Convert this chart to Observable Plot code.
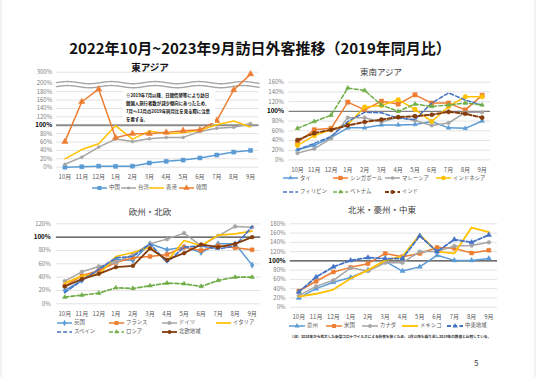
<!DOCTYPE html>
<html><head><meta charset="utf-8">
<script src="https://cdn.jsdelivr.net/npm/d3@7"></script>
<script src="https://cdn.jsdelivr.net/npm/@observablehq/plot@0.6"></script>
<style>
body{margin:0;background:#fff;font-family:"Noto Sans CJK JP","Noto Sans",sans-serif;}
#page{position:relative;width:536px;height:377px;overflow:hidden;background:#fff;}
.abs{position:absolute;white-space:nowrap;}
.pl{position:absolute;}
.pl svg{overflow:visible;}
</style></head>
<body><div id="page"></div>
<script>
// ---------- data ----------
const months = ["10月","11月","12月","1月","2月","3月","4月","5月","6月","7月","8月","9月"];

// 東アジア (%)
const eaNames = ["中国","台湾","香港","韓国"];
const china    = [0, 1, 2.5, 2, 2.5, 10, 14, 17, 22, 29, 36, 40];
const taiwan   = [7, 24, 48, 67, 61, 68, 71, 71, 85, 93, 95, 104];
const hongkong = [20, 42, 56, 99, 67, 86, 80, 82, 88, 101, 110, 96];
const korea    = [61, 156, 186, 70, 80, 80, 83, 87, 89, 111, 184, 283];
const eaTicks  = [0,20,40,60,80,100,120,140,160,180,200,300];

// 東南アジア
const seaNames   = ["タイ","シンガポール","マレーシア","インドネシア","フィリピン","ベトナム","インド"];
const thai       = [21, 30, 46, 66, 66, 72, 72, 73, 79, 66, 65, 80];
const singapore  = [36, 62, 65, 119, 103, 121, 115, 134, 117, 117, 103, 133];
const malaysia   = [14, 23, 44, 87, 87, 78, 88, 81, 71, 76, 98, 98];
const indonesia  = [30, 50, 62, 73, 109, 112, 124, 104, 79, 110, 130, 130];
const philippines= [21, 34, 48, 79, 98, 97, 86, 83, 117, 138, 123, 113];
const vietnam    = [65, 79, 92, 148, 143, 113, 100, 115, 110, 113, 117, 113];
const india      = [41, 55, 62, 71, 78, 83, 88, 90, 93, 99, 95, 87];
const seaTicks   = [0,20,40,60,80,100,120,140,160];

// 欧州・北欧
const euNames = ["英国","フランス","ドイツ","イタリア","スペイン","ロシア","北欧地域"];
const uk      = [20, 35, 50, 67, 65, 90, 81, 85, 77, 90, 90, 58];
const france  = [27, 42, 50, 62, 69, 71, 74, 85, 80, 87, 84, 81];
const germany = [34, 48, 56, 62, 74, 90, 97, 106, 87, 102, 116, 115];
const italy   = [31, 42, 44, 71, 77, 85, 64, 95, 87, 103, 105, 109];
const spain   = [17, 35, 52, 69, 71, 90, 62, 85, 87, 82, 87, 116];
const russia  = [10, 13, 16, 24, 23, 27, 31, 30, 26, 35, 40, 40];
const nordic  = [26, 37, 45, 55, 57, 83, 66, 76, 89, 85, 90, 100];
const euTicks = [0,20,40,60,80,100,120];

// 北米・豪州・中東
const naNames    = ["豪州","米国","カナダ","メキシコ","中東地域"];
const australia  = [20, 40, 54, 64, 80, 99, 78, 87, 112, 101, 101, 105];
const usa        = [35, 56, 76, 86, 94, 116, 109, 116, 129, 127, 117, 123];
const canada     = [25, 45, 58, 85, 78, 96, 96, 120, 120, 132, 133, 140];
const mexico     = [23, 29, 38, 62, 80, 101, 110, 156, 120, 116, 172, 162];
const middleEast = [33, 65, 87, 101, 107, 105, 105, 154, 120, 146, 140, 156];
const naTicks    = [0,20,40,60,80,100,120,140,160,180];

const titleText = "2022年10月~2023年9月訪日外客推移（2019年同月比）";
const panelTitles = ["東アジア","東南アジア","欧州・北欧","北米・豪州・中東"];
const noteLines = ["※2019年7月以降、日韓情勢等により訪日","韓国人旅行者数が減少傾向にあったため、","7月～12月の2019年同月比を見る際に注意","を要する。"];
const footnote = "（注）2020年から拡大した新型コロナウイルスによる影響を除くため、1月以降も繰り返し2019年の数値と比較している。";
const pageNo = "5";

// ---------- styles ----------
const C = {blue:"#5B9BD5", orange:"#ED7D31", gray:"#A5A5A5", yellow:"#FFC000", dblue:"#4472C4", green:"#70AD47", brown:"#843C0C"};
const DASH = "4,2.2";

const page = document.getElementById("page");
function addText(txt, left, cy, opts = {}) {
  const d = document.createElement("div");
  d.className = "abs";
  const fs = opts.fs || 6, lh = fs * 1.4;
  d.style.cssText += `left:${left}px;top:${cy - lh/2}px;font-size:${fs}px;line-height:${lh}px;color:${opts.color||"#595959"};font-weight:${opts.bold?"bold":"normal"};`;
  if (opts.width) { d.style.width = opts.width + "px"; d.style.textAlign = "center"; }
  d.textContent = txt;
  page.appendChild(d);
  return d;
}

function makePanel(cfg) {
  const tf = cfg.tf || (v => v);
  const ticksD = cfg.ticks.map(tf);
  const labelOf = new Map(cfg.ticks.map(t => [tf(t), t + "%"]));
  const gridT = cfg.ticks.filter(t => t !== 100 && !(cfg.noGrid || []).includes(t)).map(tf);
  const marks = [
    Plot.ruleY(gridT, {stroke:"#D9D9D9", strokeWidth:0.75}),
    ...(cfg.extra || []),
    Plot.ruleY([tf(100)], {stroke:cfg.refColor, strokeWidth:cfg.refWidth}),
    Plot.axisX(d3.range(12), {tickSize:0, tickPadding:8, tickFormat:i => months[i], fontSize:6, fill:"#595959"}),
    Plot.axisY(ticksD.filter(d => d !== tf(100)), {tickSize:0, tickPadding:cfg.yPad, tickFormat:d => labelOf.get(d), fontSize:6, fill:"#808080", color:"#808080"}),
    Plot.axisY([tf(100)], {tickSize:0, tickPadding:cfg.yPad, tickFormat:() => "100%", fontSize:6.2, fill:"#000", fontWeight:"bold"})
  ];
  for (const s of cfg.series) {
    const pts = s.values.map((v, i) => ({i, v: tf(v)}));
    marks.push(Plot.line(pts, {x:"i", y:"v", stroke:s.color, strokeWidth:s.w || 1.5, strokeDasharray:s.dash}));
    if (s.symbol) marks.push(Plot.dot(pts, {x:"i", y:"v", symbol:s.symbol, r:s.r || 2, fill:s.color, stroke:s.color, strokeWidth:0.5}));
  }
  const svg = Plot.plot({
    width:cfg.w, height:cfg.h,
    marginLeft:cfg.mL, marginRight:cfg.mR, marginTop:cfg.mT, marginBottom:cfg.mB,
    x:{domain:[-0.5, 11.5], label:null},
    y:{domain:cfg.yDomain, label:null},
    style:{fontFamily:"'Noto Sans CJK JP', sans-serif", fontSize:"6px", background:"transparent", overflow:"visible"},
    marks
  });
  const wrap = document.createElement("div");
  wrap.className = "pl";
  wrap.style.left = cfg.left + "px";
  wrap.style.top = cfg.top + "px";
  wrap.appendChild(svg);
  page.appendChild(wrap);
}

function legend(items, series) {
  items.forEach((it, k) => {
    const s = series[k];
    const w = it.sw || 15;
    const ns = "http://www.w3.org/2000/svg";
    const svg = document.createElementNS(ns, "svg");
    svg.setAttribute("width", w); svg.setAttribute("height", 8);
    svg.style.cssText = `position:absolute;left:${it.x}px;top:${it.y - 4}px;overflow:visible`;
    const ln = document.createElementNS(ns, "line");
    ln.setAttribute("x1", 0); ln.setAttribute("x2", w); ln.setAttribute("y1", 4); ln.setAttribute("y2", 4);
    ln.setAttribute("stroke", s.color); ln.setAttribute("stroke-width", s.w || 1.5);
    if (s.dash) ln.setAttribute("stroke-dasharray", s.dash);
    svg.appendChild(ln);
    if (s.symbol) {
      const sym = {circle:d3.symbolCircle, square:d3.symbolSquare, triangle:d3.symbolTriangle, diamond:d3.symbolDiamond}[s.symbol];
      const p = document.createElementNS(ns, "path");
      const r = s.r || 2;
      p.setAttribute("d", d3.symbol(sym, Math.PI * r * r)());
      p.setAttribute("transform", `translate(${w/2},4)`);
      p.setAttribute("fill", s.color);
      svg.appendChild(p);
    }
    page.appendChild(svg);
    addText(s.name, it.x + w + 2, it.y, {fs:5.4, color:"#595959"});
  });
}

// ---------- title ----------
addText(titleText, 0, 47, {fs:15, bold:true, color:"#111", width:520});

// ---------- panel 1: 東アジア (broken axis above 200%) ----------
const brk = v => v <= 200 ? v : 200 + (v - 200) * 0.264;
const eaSeries = [
  {name:eaNames[0], values:china, color:C.blue, symbol:"square", r:2.3},
  {name:eaNames[1], values:taiwan, color:C.gray, symbol:"circle", r:1.5},
  {name:eaNames[2], values:hongkong, color:C.yellow},
  {name:eaNames[3], values:korea, color:C.orange, symbol:"triangle", r:2.3}
];
const waveX = d3.range(0, 241).map(k => -0.5 + k * 0.05);
const waveTop = waveX.map(x => ({x, y: 201.5 + 2.6 * Math.sin(2 * Math.PI * (x + 0.5) / 2.6)}));
const waveBot = waveX.map(x => ({x, y: 192 + 2.6 * Math.sin(2 * Math.PI * (x + 0.5) / 2.6)}));
makePanel({
  left:0, top:55, w:268, h:130, mL:56, mR:9.5, mT:16.7, mB:18.3,
  yDomain:[0, brk(300)], ticks:eaTicks, tf:brk, noGrid:[200], yPad:4.3,
  refColor:"#8C8C8C", refWidth:2,
  extra:[
    Plot.line(waveTop, {x:"x", y:"y", stroke:"#A6A6A6", strokeWidth:1.4}),
    Plot.line(waveBot, {x:"x", y:"y", stroke:"#A6A6A6", strokeWidth:1.4})
  ],
  series:eaSeries
});
// note box
{
  const box = document.createElement("div");
  box.className = "abs";
  box.style.cssText += "left:123px;top:89px;width:92px;height:34px;background:#fff;";
  page.appendChild(box);
  const ys = [95, 103.3, 111.5, 119.3];
  noteLines.forEach((t, i) => addText(t, 126, ys[i], {fs:4.4, bold:true, color:"#111"}));
}
addText(panelTitles[0], 110, 68, {fs:9.5, bold:true, color:"#111", width:80});
legend([{x:92,y:187.5},{x:121,y:187.5},{x:149,y:187.5},{x:179,y:187.5}], eaSeries);

// ---------- panel 2: 東南アジア ----------
const seaSeries = [
  {name:seaNames[0], values:thai, color:C.blue, symbol:"triangle", r:1.7},
  {name:seaNames[1], values:singapore, color:C.orange, symbol:"square", r:2.4},
  {name:seaNames[2], values:malaysia, color:C.gray, symbol:"circle", r:1.8},
  {name:seaNames[3], values:indonesia, color:C.yellow, symbol:"circle", r:2.3},
  {name:seaNames[4], values:philippines, color:C.dblue, dash:DASH},
  {name:seaNames[5], values:vietnam, color:C.green, dash:DASH, symbol:"triangle", r:1.7},
  {name:seaNames[6], values:india, color:C.brown, dash:DASH, w:2, symbol:"circle", r:2.1}
];
makePanel({
  left:250, top:55, w:286, h:130, mL:38.6, mR:46, mT:26.7, mB:25.6,
  yDomain:[0,160], ticks:seaTicks, yPad:5.2, refColor:"#7F7F7F", refWidth:1.3,
  series:seaSeries
});
addText(panelTitles[1], 340, 72.3, {fs:8.5, color:"#404040", width:82});
legend([{x:283,y:178.3},{x:333,y:178.3},{x:385,y:178.3},{x:436,y:178.3},
        {x:283,y:191.7},{x:333,y:191.7},{x:385,y:191.7}], seaSeries);

// ---------- panel 3: 欧州・北欧 ----------
const euSeries = [
  {name:euNames[0], values:uk, color:C.blue, symbol:"diamond", r:1.9},
  {name:euNames[1], values:france, color:C.orange, symbol:"square", r:2.2},
  {name:euNames[2], values:germany, color:C.gray, symbol:"circle", r:1.9},
  {name:euNames[3], values:italy, color:C.yellow, w:1.7},
  {name:euNames[4], values:spain, color:C.dblue, dash:DASH, w:1.7},
  {name:euNames[5], values:russia, color:C.green, dash:DASH, w:1.7, symbol:"triangle", r:1.7},
  {name:euNames[6], values:nordic, color:C.brown, w:1.8, symbol:"circle", r:1.9}
];
makePanel({
  left:0, top:200, w:268, h:125, mL:55.8, mR:7.8, mT:23.3, mB:21.7,
  yDomain:[0,120], ticks:euTicks, yPad:5.6, refColor:"#404040", refWidth:1.1,
  series:euSeries
});
addText(panelTitles[2], 105, 211.7, {fs:8.5, color:"#404040", width:90});
legend([{x:57,y:322.7},{x:109,y:322.7},{x:162,y:322.7},{x:216,y:322.7},
        {x:57,y:332},{x:109,y:332},{x:162,y:332}], euSeries);

// ---------- panel 4: 北米・豪州・中東 ----------
const naSeries = [
  {name:naNames[0], values:australia, color:C.blue, symbol:"triangle", r:1.9},
  {name:naNames[1], values:usa, color:C.orange, symbol:"square", r:2.2},
  {name:naNames[2], values:canada, color:C.gray, symbol:"circle", r:1.9},
  {name:naNames[3], values:mexico, color:C.yellow, w:1.8},
  {name:naNames[4], values:middleEast, color:C.dblue, dash:DASH, w:1.8, symbol:"triangle", r:1.9}
];
makePanel({
  left:250, top:200, w:286, h:125, mL:39.7, mR:39, mT:23.3, mB:18.3,
  yDomain:[0,180], ticks:naTicks, yPad:4.7, refColor:"#404040", refWidth:1.1,
  series:naSeries
});
addText(panelTitles[3], 332, 210, {fs:8.5, color:"#404040", width:100});
legend([{x:289,y:326,sw:16},{x:326,y:326,sw:16},{x:362,y:326,sw:16},{x:402,y:326,sw:16},{x:447,y:326,sw:16}], naSeries);
addText(footnote, 290, 336.7, {fs:3.65, bold:true, color:"#333"});

addText(pageNo, 474, 362.3, {fs:8, color:"#404040"});
// slide edges
["left:0px","left:534px"].forEach(p => {
  const e = document.createElement("div"); e.className = "abs";
  e.style.cssText += p + ";top:0;width:2px;height:377px;background:#f2f2f2;";
  page.appendChild(e);
});
</script>
</body></html>
